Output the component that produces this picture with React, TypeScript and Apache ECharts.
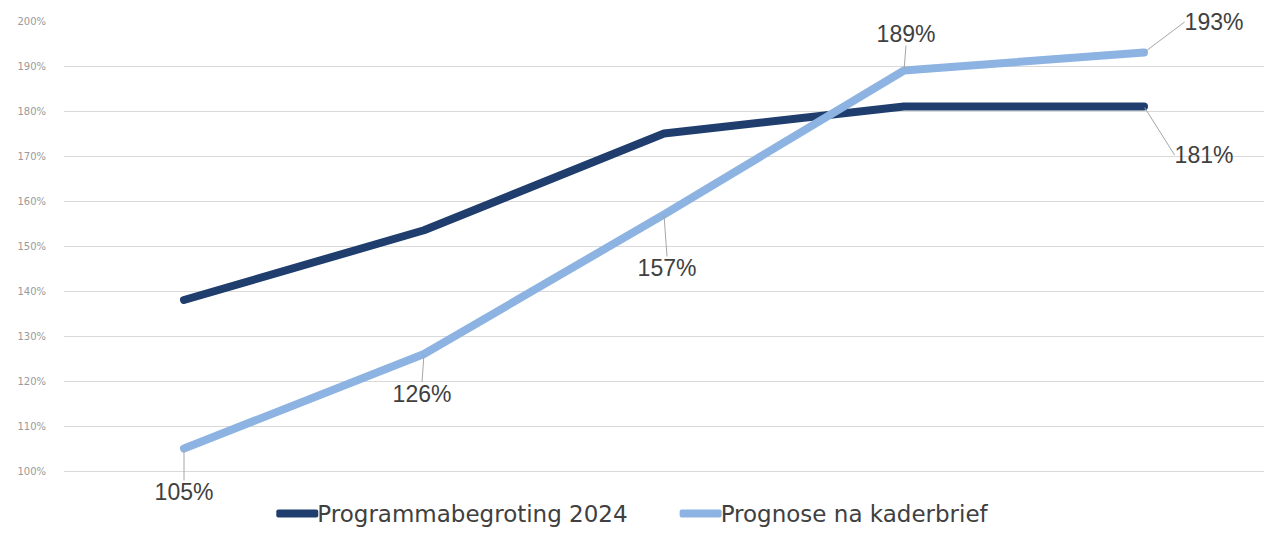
import React, { useEffect, useRef } from "react";
import * as echarts from "echarts";

const categories = ["1", "2", "3", "4", "5"];
const programmabegroting = [138, 153.5, 175, 181, 181];
const prognose = [105, 126, 157, 189, 193];
const seriesNames = ["Programmabegroting 2024", "Prognose na kaderbrief"];
const yTicks = { min: 100, max: 200, interval: 10 };

// label offsets (layout only)
const prognoseLabelOffsets = [
  { dx: 0, dy: 26 },
  { dx: -2, dy: 22 },
  { dx: 3, dy: 36 },
  { dx: 2, dy: -19 },
  { dx: 70, dy: -13 },
];
const prognoseLabelPos = ["bottom", "bottom", "bottom", "top", "top"];

export default function App() {
  const ref = useRef<HTMLDivElement>(null);
  useEffect(() => {
    if (!ref.current) return;
    const chart = echarts.init(ref.current, null, { renderer: "svg" });
    const gridColors = Array.from({ length: 11 }, (_, i) => (i === 10 ? "rgba(0,0,0,0)" : "#d9d9d9"));
    chart.setOption({
      animation: false,
      backgroundColor: "#ffffff",
      grid: { left: 64, right: -8, top: 21, bottom: 64 },
      legend: {
        bottom: 5,
        left: "center",
        itemGap: 52,
        itemWidth: 42,
        itemHeight: 8,
        icon: "roundRect",
        textStyle: { fontFamily: "DejaVu Sans", fontSize: 23, color: "#404040", padding: [0, 0, 0, -6] },
        data: seriesNames,
      },
      xAxis: {
        type: "category",
        data: categories,
        boundaryGap: true,
        axisLine: { show: false },
        axisTick: { show: false },
        axisLabel: { show: false },
      },
      yAxis: {
        type: "value",
        min: yTicks.min,
        max: yTicks.max,
        interval: yTicks.interval,
        axisLine: { show: false },
        axisTick: { show: false },
        axisLabel: {
          formatter: (v: number) => v + "%",
          fontSize: 10,
          color: "#9a9a9a",
          margin: 18,
          fontFamily: "DejaVu Sans",
        },
        splitLine: { lineStyle: { color: gridColors, width: 1 } },
      },
      series: [
        {
          name: seriesNames[0],
          type: "line",
          data: programmabegroting.map((v, i) =>
            i === programmabegroting.length - 1
              ? { value: v, label: { show: true, position: "bottom" } }
              : v
          ),
          symbol: "circle",
          symbolSize: 2,
          itemStyle: { color: "#1f3e6e" },
          lineStyle: { width: 8, color: "#1f3e6e", cap: "round", join: "round" },
          label: {
            show: false,
            formatter: (p: any) => Math.round(p.value) + "%",
            fontSize: 23,
            color: "#404040",
            fontFamily: "Liberation Sans",
          },
          labelLine: { show: true, lineStyle: { color: "#a6a6a6", width: 1 }, length2: 0 },
          labelLayout: (p: any) => (p.dataIndex === 4 ? { dx: 60, dy: 31 } : {}),
          z: 2,
        },
        {
          name: seriesNames[1],
          type: "line",
          data: prognose.map((v, i) => ({ value: v, label: { position: prognoseLabelPos[i] } })),
          symbol: "circle",
          symbolSize: 2,
          itemStyle: { color: "#8db3e2" },
          lineStyle: { width: 8, color: "#8db3e2", cap: "round", join: "round" },
          label: {
            show: true,
            formatter: (p: any) => p.value + "%",
            fontSize: 23,
            color: "#404040",
            fontFamily: "Liberation Sans",
          },
          labelLine: { show: true, lineStyle: { color: "#a6a6a6", width: 1 } },
          labelLayout: (p: any) => prognoseLabelOffsets[p.dataIndex] || {},
          z: 3,
        },
      ],
    });
    return () => chart.dispose();
  }, []);
  return (
    <div
      ref={ref}
      style={{ position: "fixed", left: 0, top: 0, width: 1264, height: 535 }}
    />
  );
}
